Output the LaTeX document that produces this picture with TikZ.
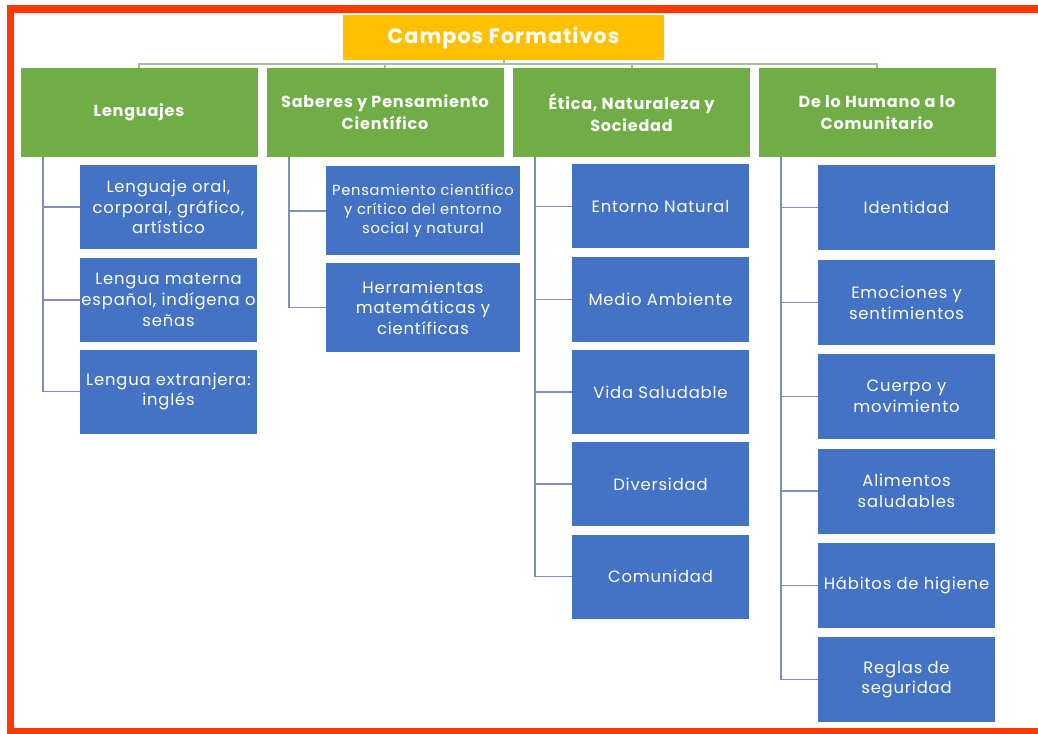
\documentclass[tikz,border=0pt]{standalone}
\usepackage{fontspec}
\setmainfont{Poppins}[LetterSpace=5.0]
\usetikzlibrary{calc,positioning}

\definecolor{rojoMarco}{RGB}{255,55,0}
\definecolor{amarilloTitulo}{RGB}{255,192,0}
\definecolor{verdeCampo}{RGB}{112,173,71}
\definecolor{azulTema}{RGB}{68,114,196}
\definecolor{lineaVerde}{RGB}{170,190,150}
\definecolor{lineaAzul}{RGB}{130,140,185}

\tikzset{
    marco/.style={draw=rojoMarco, line width=5.8pt},
    titulo/.style={fill=amarilloTitulo, text=white, inner sep=0pt,
        minimum width=321*0.75pt, minimum height=45*0.75pt,
        font=\bfseries\fontsize{15.5}{18}\selectfont},
    campo/.style={fill=verdeCampo, text=white, inner sep=0pt, align=center,
        minimum width=237*0.75pt, minimum height=89*0.75pt,
        font=\bfseries\fontsize{12}{16.5}\selectfont},
    tema/.style={fill=azulTema, text=white, inner sep=0pt, align=center,
        minimum width=177*0.75pt, minimum height=84*0.75pt,
        font=\fontsize{12.3}{15.5}\selectfont},
    temaancho/.style={tema, minimum width=194*0.75pt, minimum height=89*0.75pt},
    temaalto/.style={tema, minimum height=85*0.75pt},
    enlace/.style={draw=lineaVerde, line width=1.5pt},
    rama/.style={draw=lineaAzul, line width=1.3pt}
}

\begin{document}
\begin{tikzpicture}[x=0.75pt, y=-0.75pt]
    \useasboundingbox (0,0) rectangle (1038,734);
    \clip (0,0) rectangle (1038,734);

    %marco exterior
    \draw[marco] (10.5,9) rectangle (1070,732);

    %titulo y campos formativos
    \node[titulo] (campos) at (503.5,37.5) {Campos Formativos};

    \node[campo] (g1) at (139,112.5) {Lenguajes};
    \node[campo] (g2) at (385,112.5) {Saberes y Pensamiento\\Científico};
    \node[campo] (g3) at (631.5,112.5) {Ética, Naturaleza y\\Sociedad};
    \node[campo] (g4) at (877,112.5) {De lo Humano a lo\\Comunitario};

    \coordinate (cBarra) at (503.5,64);
    \draw[enlace] (campos.south) -- (cBarra);
    \foreach \campo in {g1,g2,g3,g4}
        \draw[enlace] (cBarra) -| (\campo.north);

    %troncos de cada columna
    \coordinate (tg1) at ($(g1.south west)+(22.5,0)$);
    \coordinate (tg2) at ($(g2.south west)+(22.5,0)$);
    \coordinate (tg3) at ($(g3.south west)+(22.5,0)$);
    \coordinate (tg4) at ($(g4.south west)+(22.5,0)$);

    %Lenguajes
    \node[tema] (a1) at (168.5,207) {Lenguaje oral,\\corporal, gráfico,\\artístico};
    \node[tema] (a2) at (168.5,300) {Lengua materna\\español, indígena o\\señas};
    \node[tema] (a3) at (168.5,391.5) {Lengua extranjera:\\inglés};

    %Saberes y Pensamiento Cientifico
    \node[temaancho, font=\fontsize{11}{14.3}\selectfont] (b1) at (423,211)
        {Pensamiento científico\\y crítico del entorno\\social y natural};
    \node[temaancho] (b2) at (423,307.5) {Herramientas\\matemáticas y\\científicas};

    %Etica, Naturaleza y Sociedad
    \node[tema] (c1) at (660.5,206.5) {Entorno Natural};
    \node[tema] (c2) at (660.5,299.5) {Medio Ambiente};
    \node[tema] (c3) at (660.5,392) {Vida Saludable};
    \node[tema] (c4) at (660.5,484) {Diversidad};
    \node[tema] (c5) at (660.5,576.5) {Comunidad};

    %De lo Humano a lo Comunitario
    \node[temaalto] (d1) at (906.5,207.5) {Identidad};
    \node[temaalto] (d2) at (906.5,302.5) {Emociones y\\sentimientos};
    \node[temaalto] (d3) at (906.5,396.5) {Cuerpo y\\movimiento};
    \node[temaalto] (d4) at (906.5,491) {Alimentos\\saludables};
    \node[temaalto] (d5) at (906.5,585.5) {Hábitos de higiene};
    \node[temaalto] (d6) at (906.5,679.5) {Reglas de\\seguridad};

    %ramas hacia cada tema
    \foreach \tronco/\tema in
    {tg1/a1, tg1/a2, tg1/a3,
        tg2/b1, tg2/b2,
        tg3/c1, tg3/c2, tg3/c3, tg3/c4, tg3/c5,
        tg4/d1, tg4/d2, tg4/d3, tg4/d4, tg4/d5, tg4/d6}
        \draw[rama] (\tronco) |- (\tema.west);
\end{tikzpicture}
\end{document}
